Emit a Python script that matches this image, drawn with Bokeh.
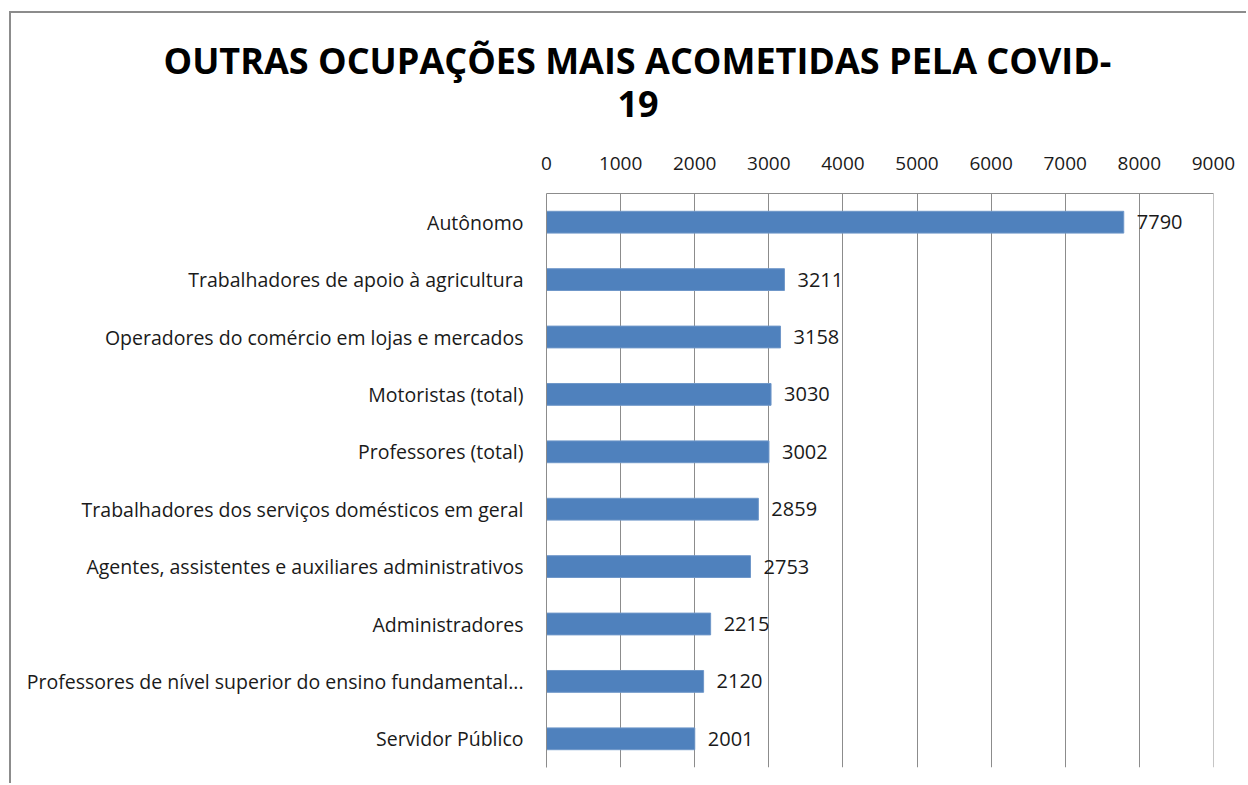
from bokeh.plotting import figure
from bokeh.models import FactorRange, Range1d, ColumnDataSource, Title, FixedTicker
from bokeh.core.properties import value
from bokeh.embed import file_html
from bokeh.resources import INLINE

categories = [
    "Autônomo",
    "Trabalhadores de apoio à agricultura",
    "Operadores do comércio em lojas e mercados",
    "Motoristas (total)",
    "Professores (total)",
    "Trabalhadores dos serviços domésticos em geral",
    "Agentes, assistentes e auxiliares administrativos",
    "Administradores",
    "Professores de nível superior do ensino fundamental...",
    "Servidor Público",
]
values = [7790, 3211, 3158, 3030, 3002, 2859, 2753, 2215, 2120, 2001]
x_ticks = [0, 1000, 2000, 3000, 4000, 5000, 6000, 7000, 8000, 9000]
title_line1 = "OUTRAS OCUPAÇÕES MAIS ACOMETIDAS PELA COVID-"
title_line2 = "19"

FONT = "Open Sans"

src = ColumnDataSource(dict(cat=categories, val=values, lab=[str(v) for v in values]))

p = figure(
    width=1237, height=772,
    y_range=FactorRange(factors=list(reversed(categories))),
    x_range=Range1d(0, 9001),
    x_axis_location="above",
    output_backend="svg", toolbar_location=None,
    min_border_left=535, min_border_right=35, min_border_top=180, min_border_bottom=18,
)
p.outline_line_color = None
p.background_fill_color = "white"
p.border_fill_color = "white"
p.margin = (11, 0, 0, 9)
p.styles = {"border-left": "2px solid #8c8c8c", "border-top": "2px solid #8c8c8c"}

p.hbar(y="cat", right="val", left=0, height=0.38, source=src,
       fill_color="#4F81BD", line_color="#6f97c9", line_width=1)

p.text(x="val", y="cat", text="lab", source=src, x_offset=13,
       text_baseline="middle", text_align="left",
       text_font=value(FONT), text_font_size="20px", text_color="#1a1a1a")

xa = p.xaxis[0]
xa.ticker = FixedTicker(ticks=x_ticks)
xa.major_tick_line_color = None
xa.minor_tick_line_color = None
xa.major_label_standoff = 18
xa.axis_line_color = "#8c8c8c"
xa.major_label_text_font = FONT
xa.major_label_text_font_size = "19px"
xa.major_label_text_color = "#1a1a1a"

ya = p.yaxis[0]
ya.major_tick_line_color = None
ya.minor_tick_line_color = None
ya.major_label_standoff = 17
ya.axis_line_color = "#8c8c8c"
ya.major_label_text_font = FONT
ya.major_label_text_font_size = "19.5px"
ya.major_label_text_color = "#1a1a1a"

p.xgrid.grid_line_color = "#8c8c8c"
p.xgrid.grid_line_width = 1
p.ygrid.grid_line_color = None

spacer = Title(text=" ", standoff=0, text_font=FONT, text_font_style="bold", text_font_size="23px")
t2 = Title(text=title_line2, align="left", offset=71, standoff=6,
           text_font=FONT, text_font_style="bold", text_font_size="36px", text_color="black")
t1 = Title(text=title_line1, align="left", offset=-383, standoff=2,
           text_font=FONT, text_font_style="bold", text_font_size="36px", text_color="black")
p.add_layout(spacer, "above")
p.add_layout(t2, "above")
p.add_layout(t1, "above")

open("out.html", "w").write(file_html(p, INLINE))
